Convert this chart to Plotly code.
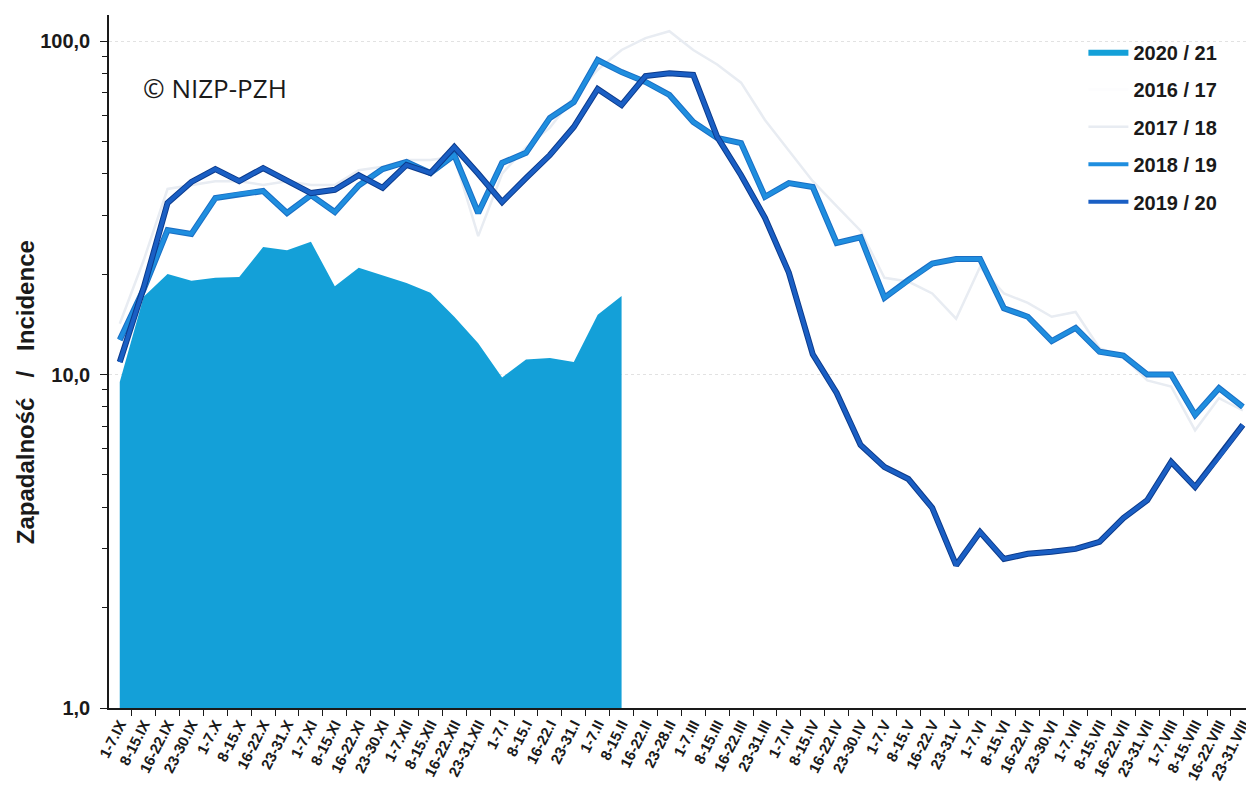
import plotly.graph_objects as go

categories = ["1-7.IX", "8-15.IX", "16-22.IX", "23-30.IX", "1-7.X", "8-15.X", "16-22.X", "23-31.X",
              "1-7.XI", "8-15.XI", "16-22.XI", "23-30.XI", "1-7.XII", "8-15.XII", "16-22.XII", "23-31.XII",
              "1-7.I", "8-15.I", "16-22.I", "23-31.I", "1-7.II", "8-15.II", "16-22.II", "23-28.II",
              "1-7.III", "8-15.III", "16-22.III", "23-31.III", "1-7.IV", "8-15.IV", "16-22.IV", "23-30.IV",
              "1-7.V", "8-15.V", "16-22.V", "23-31.V", "1-7.VI", "8-15.VI", "16-22.VI", "23-30.VI",
              "1-7.VII", "8-15.VII", "16-22.VII", "23-31.VII", "1-7.VIII", "8-15.VIII", "16-22.VIII", "23-31.VIII"]

inc_2020_21 = [9.5, 17.1, 20.0, 19.1, 19.5, 19.6, 24.1, 23.6, 25.0, 18.4, 20.9, 19.8,
               18.8, 17.6, 14.9, 12.4, 9.8, 11.1, 11.2, 10.9, 15.1, 17.2]

# 2016/17 is drawn in white in the reference, so no values can be read
inc_2016_17 = [None] * len(categories)

inc_2017_18 = [14.2, 22.0, 36.0, 37.0, 38.0, 38.0, 37.0, 38.0, 37.0, 37.0, 41.0, 42.0,
               44.0, 44.0, 45.0, 26.0, 40.0, 48.0, 55.0, 68.0, 82.0, 94.0, 102.0, 107.0,
               94.0, 85.0, 75.0, 58.0, 47.0, 38.0, 32.0, 27.0, 19.5, 19.0, 17.5, 14.7,
               21.0, 17.5, 16.4, 14.9, 15.4, 12.0, 11.3, 9.6, 9.2, 6.8, 8.5, 7.8]

inc_2018_19 = [12.7, 18.0, 27.1, 26.4, 33.8, 34.8, 35.5, 30.5, 34.5, 30.7, 36.9, 41.3,
               43.4, 40.2, 45.5, 30.5, 43.1, 46.2, 58.8, 65.6, 87.7, 80.7, 75.4, 68.9,
               57.2, 51.2, 49.4, 34.1, 37.5, 36.5, 24.8, 25.8, 17.0, 19.2, 21.5, 22.2,
               22.2, 15.8, 14.9, 12.6, 13.8, 11.7, 11.4, 10.0, 10.0, 7.56, 9.1, 8.0]

inc_2019_20 = [10.9, 18.2, 32.7, 37.8, 41.3, 38.0, 41.6, 38.3, 35.0, 35.8, 39.6, 36.3,
               42.5, 40.2, 48.1, 40.0, 32.9, 38.8, 45.5, 55.2, 71.8, 64.3, 78.5, 80.0,
               79.1, 51.6, 39.6, 29.5, 20.2, 11.5, 8.8, 6.15, 5.28, 4.86, 3.98, 2.68,
               3.37, 2.8, 2.9, 2.94, 3.0, 3.15, 3.71, 4.2, 5.47, 4.6, 5.66, 7.06]

ytick_vals = [1, 10, 100]
ytick_text = ["1,0", "10,0", "100,0"]

FONT = "Liberation Sans, Arial, sans-serif"
NB = "\u00a0"

fig = go.Figure()

fig.add_trace(go.Scatter(
    x=categories[:len(inc_2020_21)], y=inc_2020_21, name="2020 / 21",
    mode="lines", fill="tozeroy", fillcolor="#14a0d8",
    line=dict(color="#14a0d8", width=0), legendgroup="a"))

fig.add_trace(go.Scatter(
    x=categories, y=inc_2016_17, name="2016 / 17",
    mode="lines", line=dict(color="#fdfdfe", width=3), legendgroup="b"))

fig.add_trace(go.Scatter(
    x=categories, y=inc_2017_18, name="2017 / 18",
    mode="lines", line=dict(color="#e8ecf2", width=2.5), legendgroup="c"))

fig.add_trace(go.Scatter(
    x=categories, y=inc_2018_19, name="2018 / 19", showlegend=False,
    mode="lines", line=dict(color="#1a6fc4", width=6), legendgroup="d", hoverinfo="skip"))
fig.add_trace(go.Scatter(
    x=categories, y=inc_2018_19, name="2018 / 19",
    mode="lines", line=dict(color="#1f8edf", width=4), legendgroup="d"))

fig.add_trace(go.Scatter(
    x=categories, y=inc_2019_20, name="2019 / 20", showlegend=False,
    mode="lines", line=dict(color="#0c3b8c", width=6), legendgroup="e", hoverinfo="skip"))
fig.add_trace(go.Scatter(
    x=categories, y=inc_2019_20, name="2019 / 20",
    mode="lines", line=dict(color="#1a5fc4", width=4), legendgroup="e"))

fig.update_layout(
    width=1246, height=794,
    margin=dict(l=109, r=0, t=15, b=86, autoexpand=False),
    paper_bgcolor="white", plot_bgcolor="white",
    font=dict(family=FONT, color="#1a1a1a"),
    showlegend=True,
    legend=dict(
        x=0.857, y=0.975, xanchor="left", yanchor="top",
        bgcolor="rgba(0,0,0,0)", tracegroupgap=8.5,
        font=dict(family=FONT, size=20, color="#1a1a1a", weight="bold"),
        itemwidth=40,
    ),
    xaxis=dict(
        type="category", categoryorder="array", categoryarray=categories,
        range=[-0.45, 47.13], automargin=False,
        tickangle=-63, tickson="boundaries",
        ticks="outside", ticklen=6, tickcolor="#1a1a1a",
        showline=True, linecolor="#1a1a1a", linewidth=1.5,
        showgrid=False, zeroline=False,
        tickfont=dict(family=FONT, size=15, color="#1a1a1a", weight="bold"),
    ),
    yaxis=dict(
        type="log", range=[0, 2.078], automargin=False,
        tickvals=ytick_vals, ticktext=ytick_text,
        ticks="outside", ticklen=7, tickcolor="#1a1a1a",
        showline=True, linecolor="#1a1a1a", linewidth=1.5,
        showgrid=True, gridcolor="#e2e2e2", griddash="dot", gridwidth=1,
        zeroline=False, ticklabelstandoff=6,
        tickfont=dict(family=FONT, size=20, color="#1a1a1a", weight="bold"),
        minor=dict(ticks="outside", ticklen=5, tickcolor="#1a1a1a", dtick="D1", showgrid=False),
    ),
    annotations=[
        dict(text="Zapadalność" + NB * 3 + "/" + NB * 3 + "Incidence", xref="paper", yref="paper",
             x=-0.087, y=0.455, textangle=-90, showarrow=False,
             font=dict(family=FONT, size=24, color="#1a1a1a", weight="bold")),
        dict(text="© NIZP-PZH", xref="paper", yref="paper",
             x=0.028, y=0.895, xanchor="left", yanchor="middle", showarrow=False,
             font=dict(family="Open Sans, DejaVu Sans, sans-serif", size=26, color="#1a1a1a")),
    ],
)

fig.write_html("out.html", config={"displayModeBar": False},
               post_script="document.body.style.margin='0';")
